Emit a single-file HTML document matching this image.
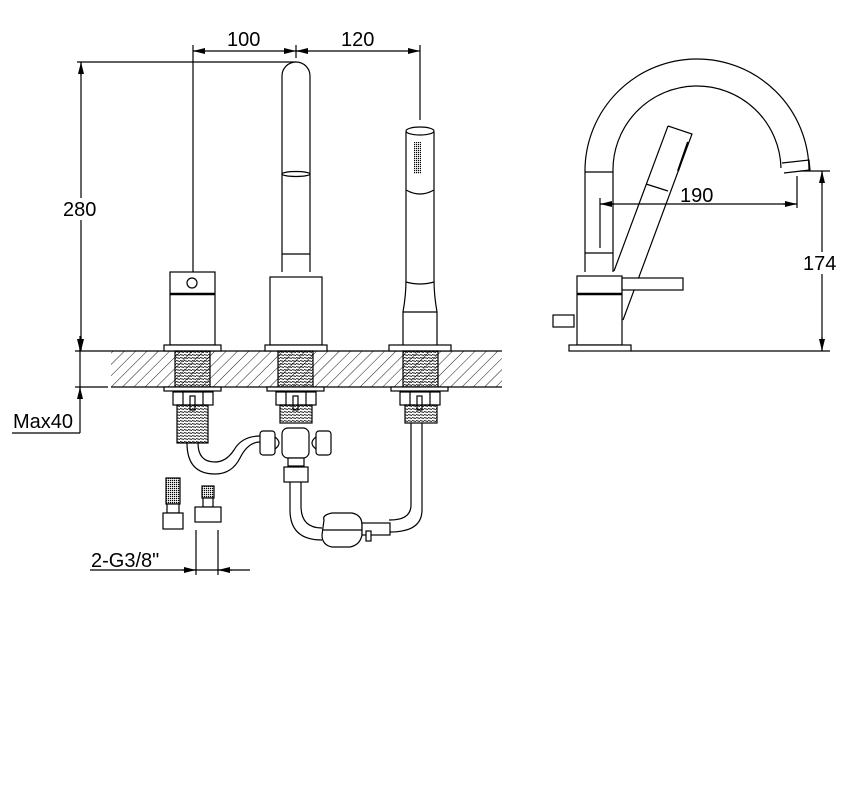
<!DOCTYPE html>
<html><head><meta charset="utf-8"><style>
html,body{margin:0;padding:0;background:#fff}
svg{display:block}
text{font-family:"Liberation Sans",sans-serif;font-size:20px;fill:#000}
</style></head><body>
<svg width="861" height="809" viewBox="0 0 861 809" xmlns="http://www.w3.org/2000/svg">
<defs>
<pattern id="h" patternUnits="userSpaceOnUse" width="8" height="8" patternTransform="rotate(45)">
<line x1="0" y1="0" x2="0" y2="8" stroke="#000" stroke-width="0.9"/>
</pattern>
<pattern id="t" patternUnits="userSpaceOnUse" width="4" height="3">
<line x1="0" y1="0.5" x2="4" y2="1.5" stroke="#000" stroke-width="0.9"/>
</pattern>
<pattern id="g" patternUnits="userSpaceOnUse" width="2" height="2">
<rect width="1.2" height="1.2" fill="#000"/>
</pattern>
<marker id="a" markerWidth="12" markerHeight="6" refX="12" refY="3" orient="auto" markerUnits="userSpaceOnUse"><path d="M0,0 L12,3 L0,6z" fill="#000"/></marker>
</defs>
<g fill="none" stroke="#000" stroke-width="1.2">
<line x1="193" y1="45" x2="193" y2="272"/>
<line x1="420" y1="45" x2="420" y2="120"/>
<line x1="296" y1="45" x2="296" y2="58"/>
<line x1="193" y1="51" x2="296" y2="51" marker-end="url(#a)"/>
<path d="M205,51 L193,51" marker-end="url(#a)"/>
<line x1="296" y1="51" x2="420" y2="51" marker-end="url(#a)"/>
<path d="M308,51 L296,51" marker-end="url(#a)"/>
<line x1="77" y1="62" x2="296" y2="62"/>
<line x1="81" y1="62" x2="81" y2="351"/>
<path d="M81,76 L81,62" marker-end="url(#a)"/>
<path d="M81,337 L81,351" marker-end="url(#a)"/>
<rect x="111" y="351" width="391" height="36" fill="url(#h)" stroke="none"/>
<line x1="75" y1="351" x2="502" y2="351"/>
<line x1="75" y1="387" x2="108" y2="387"/>
<line x1="111" y1="387" x2="502" y2="387"/>
<line x1="80" y1="336" x2="80" y2="433"/>
<path d="M80,339 L80,351" marker-end="url(#a)"/>
<path d="M80,399 L80,387" marker-end="url(#a)"/>
<line x1="12" y1="433" x2="80" y2="433"/>
<rect x="170" y="272" width="45" height="73" fill="#fff"/>
<circle cx="192" cy="283" r="5"/>
<line x1="170" y1="294" x2="215" y2="294" stroke-width="2.5"/>
<path d="M282,272 L282,76 A14,14 0 0 1 310,76 L310,272" fill="#fff"/>
<ellipse cx="296" cy="174" rx="14" ry="2.5"/>
<line x1="282" y1="254" x2="310" y2="254"/>
<rect x="270" y="277" width="52" height="68" fill="#fff"/>
<path d="M406,132 L406,190 M434,132 L434,190" />
<ellipse cx="420" cy="131" rx="14" ry="4" fill="#fff"/>
<rect x="414" y="142" width="7" height="32" fill="url(#g)" stroke="none"/>
<path d="M406,190 Q420,198 434,190"/>
<path d="M406,190 L406,280 Q406,295 403,312 L403,345 M434,190 L434,280 Q434,295 437,312 L437,345"/>
<path d="M403,312 L437,312"/>
<path d="M406,282 Q420,286 434,282"/>
<rect x="164" y="345" width="57" height="6" fill="#fff"/>
<rect x="265" y="345" width="62" height="6" fill="#fff"/>
<rect x="389" y="345" width="62" height="6" fill="#fff"/>
<rect x="175" y="351" width="35" height="36" fill="url(#t)"/>
<rect x="278" y="351" width="35" height="36" fill="url(#t)"/>
<rect x="403" y="351" width="35" height="36" fill="url(#t)"/>
<g id="n">
<rect x="164" y="387" width="57" height="4" fill="#fff"/>
<rect x="173" y="392" width="40" height="13" fill="#fff"/>
<line x1="183" y1="392" x2="183" y2="405"/><line x1="203" y1="392" x2="203" y2="405"/>
<rect x="190" y="396" width="5" height="14" fill="#fff"/>
</g>
<use href="#n" x="103"/>
<use href="#n" x="227"/>
<rect x="177" y="405" width="31" height="38" fill="url(#t)"/>
<rect x="280" y="405" width="32" height="18" fill="url(#t)"/>
<rect x="405" y="405" width="32" height="18" fill="url(#t)"/>
<path d="M187,443 Q187,474 215,474 Q232,474 240,458 Q248,442 260,442 M198,443 Q198,462 215,462 Q226,462 234,450 Q242,436 260,436"/>
<rect x="260" y="431" width="15" height="24" rx="3" fill="#fff"/>
<rect x="316" y="431" width="15" height="24" rx="3" fill="#fff"/>
<path d="M275,437 Q283,443 275,449 M316,437 Q308,443 316,449"/>
<rect x="282" y="428" width="27" height="30" rx="6" fill="#fff"/>
<rect x="288" y="458" width="16" height="8" fill="#fff"/>
<rect x="284" y="467" width="24" height="15" fill="#fff"/>
<path d="M290,482 L290,510 Q290,540 322,540 M301,482 L301,506 Q301,528 322,528"/>
<path d="M411,423 L411,505 Q411,520 390,520 L389,520 M422,423 L422,510 Q422,532 390,532"/>
<path d="M324,520 Q322,515 332,513 L352,513 Q362,515 362,525 L362,535 Q360,545 350,547 L332,547 Q322,545 322,535z" fill="#fff"/>
<line x1="322" y1="530" x2="362" y2="530"/>
<rect x="362" y="523" width="28" height="12" fill="#fff"/>
<rect x="366" y="531" width="5" height="10" fill="#fff"/>
<rect x="166" y="478" width="14" height="26" fill="url(#g)"/>
<rect x="167" y="504" width="12" height="9" fill="#fff"/>
<rect x="163" y="513" width="20" height="16" fill="#fff"/>
<rect x="202" y="486" width="12" height="12" fill="url(#g)"/>
<rect x="203" y="498" width="10" height="9" fill="#fff"/>
<rect x="195" y="507" width="26" height="15" fill="#fff"/>
<line x1="196" y1="530" x2="196" y2="575"/>
<line x1="218" y1="530" x2="218" y2="575"/>
<line x1="90" y1="570" x2="250" y2="570"/>
<path d="M182,570 L196,570" marker-end="url(#a)"/>
<path d="M232,570 L218,570" marker-end="url(#a)"/>
<path d="M585,272 L585,172 A112,112 0 0 1 809,170 M613,272 L613,172 A84,84 0 0 1 781,168"/>
<path d="M782,163 L809,160 L810,170 L784,173"/>
<line x1="585" y1="172" x2="613" y2="172"/>
<line x1="585" y1="253" x2="613" y2="253"/>
<path d="M668,126 L692,134 L623,320 M668,126 L614,271 M646,184 L668,191"/>
<line x1="688" y1="142" x2="678" y2="171" stroke-width="2"/>
<rect x="577" y="276" width="45" height="69" fill="#fff"/>
<line x1="577" y1="294" x2="622" y2="294" stroke-width="2.5"/>
<rect x="622" y="278" width="61" height="12" fill="#fff"/>
<rect x="553" y="315" width="21" height="12" fill="#fff"/>
<rect x="569" y="345" width="62" height="6" fill="#fff"/>
<line x1="600" y1="198" x2="600" y2="248"/>
<line x1="797" y1="176" x2="797" y2="208"/>
<line x1="600" y1="204" x2="797" y2="204"/>
<path d="M614,204 L600,204" marker-end="url(#a)"/>
<path d="M783,204 L797,204" marker-end="url(#a)"/>
<line x1="800" y1="171" x2="830" y2="171"/>
<line x1="631" y1="351" x2="830" y2="351"/>
<line x1="822" y1="171" x2="822" y2="351"/>
<path d="M822,185 L822,171" marker-end="url(#a)"/>
<path d="M822,337 L822,351" marker-end="url(#a)"/>
</g>
<rect x="62" y="198" width="38" height="22" fill="#fff"/>
<rect x="802" y="252" width="36" height="22" fill="#fff"/>
<text x="227" y="46">100</text>
<text x="341" y="46">120</text>
<text x="63" y="216">280</text>
<text x="13" y="428">Max40</text>
<text x="91" y="567">2-G3/8"</text>
<text x="680" y="202">190</text>
<text x="803" y="270">174</text>
</svg>
</body></html>
